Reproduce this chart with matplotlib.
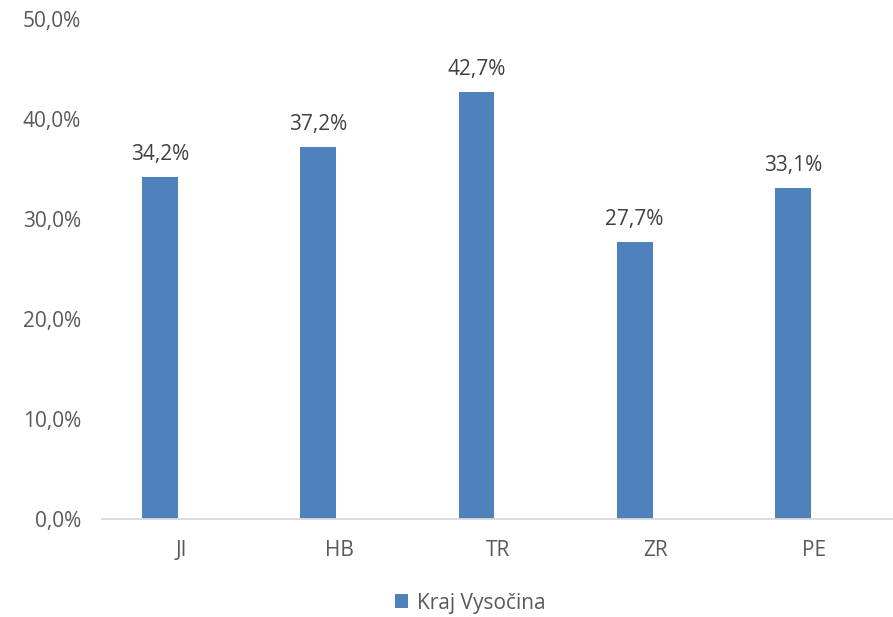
import matplotlib
matplotlib.use("Agg")
import matplotlib.pyplot as plt
import numpy as np
from matplotlib.ticker import FuncFormatter

categories = ["JI", "HB", "TR", "ZR", "PE"]
values = [34.2, 37.2, 42.7, 27.7, 33.1]
series_name = "Kraj Vysočina"

plt.rcParams['font.family'] = ['Open Sans', 'DejaVu Sans']
text_color = "#595959"
label_color = "#404040"
bar_color = "#4F81BD"

fig = plt.figure(figsize=(8.93, 6.17), dpi=100)
ax = fig.add_axes([102/893, 1-519/617, 1-102/893, 500/617])

x = np.arange(len(categories))
bars = ax.bar(x - 0.133, values, width=0.227, color=bar_color, label=series_name)
for xi, v in zip(x, values):
    ax.text(xi - 0.133, v + 1.2, f"{v:.1f}".replace(".", ",") + "%",
            ha="center", va="bottom", fontsize=15, color=label_color)

ax.set_xlim(-0.5, len(categories) - 0.5)
ax.set_ylim(0, 50)
ax.set_yticks(np.arange(0, 51, 10))
ax.yaxis.set_major_formatter(FuncFormatter(lambda v, p: f"{v:.1f}".replace(".", ",") + "%"))
ax.set_xticks(x)
ax.set_xticklabels(categories)
ax.tick_params(axis="both", length=0, labelsize=15, labelcolor=text_color)
ax.tick_params(axis="y", pad=15)
ax.tick_params(axis="x", pad=15)
for s in ["top", "right", "left"]:
    ax.spines[s].set_visible(False)
ax.spines["bottom"].set_color("#D9D9D9")
ax.spines["bottom"].set_linewidth(1.3)

fig.legend(handles=[bars], labels=[series_name], loc="center",
           bbox_to_anchor=(470/893, 1-603/617), frameon=False,
           fontsize=15, labelcolor=text_color, handlelength=0.65,
           handleheight=0.65, handletextpad=0.4)

fig.savefig("out.png", dpi=100)
